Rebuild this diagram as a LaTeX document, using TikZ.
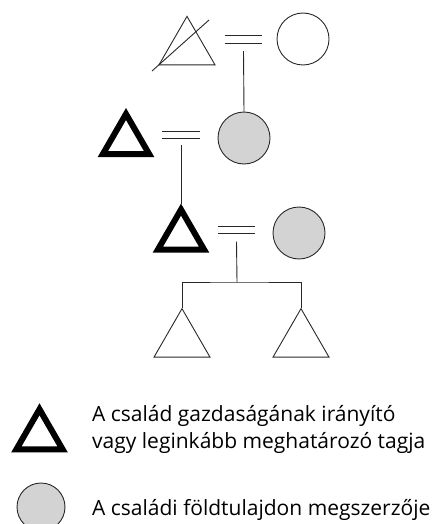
\documentclass[tikz,border=0pt]{standalone}
\usepackage{fontspec}
\setmainfont{Open Sans}
\usepackage{tikz}
\usetikzlibrary{shapes.geometric}
\definecolor{landgray}{RGB}{211,211,211}
\definecolor{inkgray}{RGB}{40,40,40}

\tikzset{
  thin tri/.style={draw=inkgray, line width=0.9pt, regular polygon, regular polygon sides=3,
    inner sep=0pt, minimum size=64.7pt},
  thick tri/.style={draw=black, line width=6pt, regular polygon, regular polygon sides=3,
    inner sep=0pt, minimum size=53.4pt},
  person/.style={draw=inkgray, line width=0.9pt, circle, inner sep=0pt, minimum size=52pt},
  owner/.style={person, fill=landgray},
  marriage/.style={inner sep=0pt, minimum width=37pt, minimum height=7pt},
  tie/.style={draw=inkgray, line width=0.9pt},
  legend/.style={anchor=base west, inner sep=0pt, font=\fontsize{21pt}{27pt}\selectfont, align=left}
}

\begin{document}
\begin{tikzpicture}[x=1pt, y=-1pt]
          \useasboundingbox (0,0) rectangle (441,524);
          % first generation
          \node[thin tri] (t1) at (187,48.7) {};
          \draw[tie] (152,71) -- (209,20);
          \node[marriage] (m1) at (243.5,39.5) {};
          \node[person] (c1) at (303,39) {};
          % second generation
          \node[thick tri] (t2) at (126,140.7) {};
          \node[marriage] (m2) at (181,135) {};
          \node[owner] (c2) at (244,138) {};
          % third generation
          \node[thick tri] (t3) at (181,236.3) {};
          \node[marriage] (m3) at (236.5,230) {};
          \node[owner] (c3) at (299,233) {};
          % children
          \node[thin tri] (t4) at (182,341) {};
          \node[thin tri] (t5) at (301,341) {};
          \coordinate (k) at (237,282);
          % couples and descent
          \foreach \m in {m1,m2,m3}
            \draw[tie] (\m.north west) -- (\m.north east) (\m.south west) -- (\m.south east);
          \draw[tie] ([yshift=-8pt]m1.south) -- (c2.north);
          \draw[tie] ([yshift=-6pt]m2.south) -- (t3.corner 1);
          \draw[tie] ([yshift=-8pt]m3.south) -- (k);
          \draw[tie] (t4.corner 1) |- (k) -| (t5.corner 1);
          % legend
          \node[thick tri] (tl) at (39.5,436) {};
          \node[legend] (d1) at (92,448) {A család gazdaságának irányító\\vagy leginkább meghatározó tagja};
          \node[owner, minimum size=48pt] (cl) at (41,507) {};
          \node[legend] (d2) at (92,515) {A családi földtulajdon megszerzője};
        \end{tikzpicture}
\end{document}
